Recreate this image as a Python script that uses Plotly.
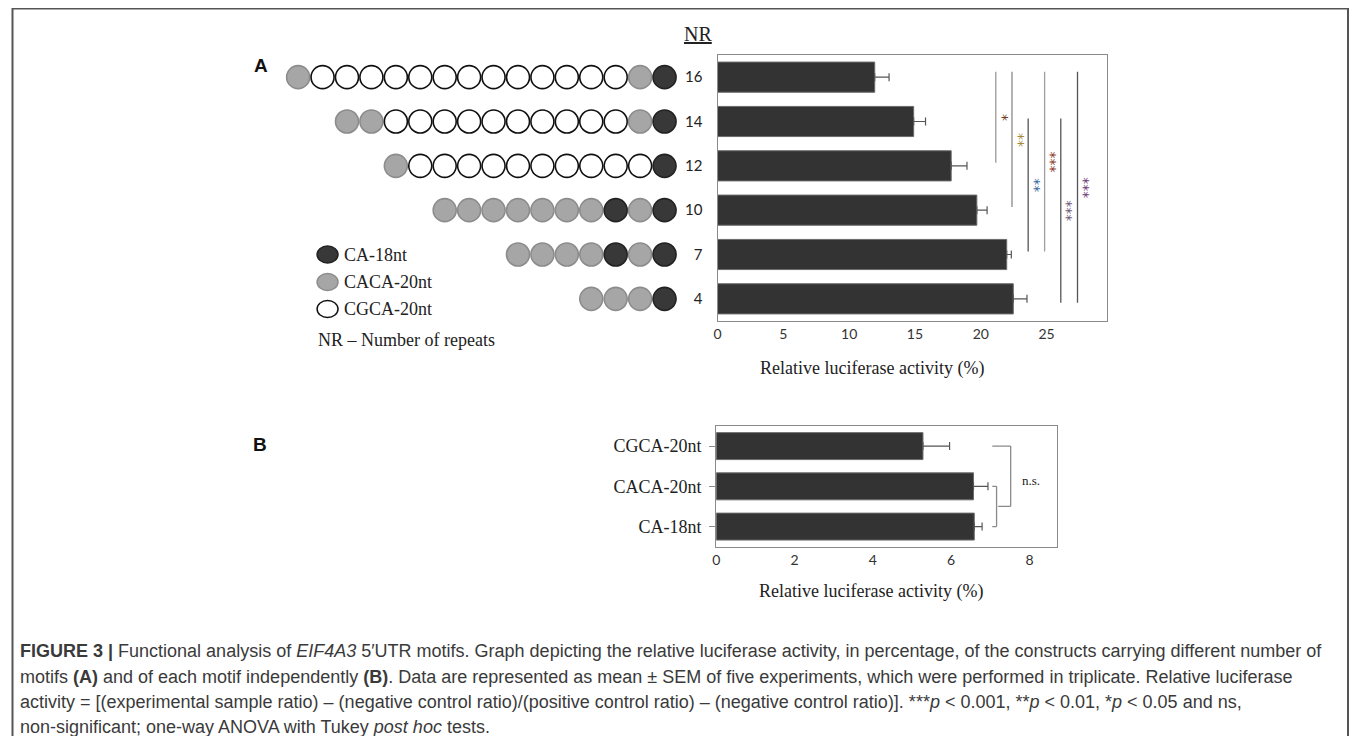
import plotly.graph_objects as go

# page body has an 8px margin: figure is sized so it fits exactly in the 1357x744 window
OFF = 8
W, H = 1357 - 2 * OFF, 744 - 2 * OFF

# ---------------- data ----------------
nr_labels = ["16", "14", "12", "10", "7", "4"]
nr_activity = [11.94, 14.9, 17.75, 19.7, 21.97, 22.47]
nr_sem = [1.09, 0.9, 1.2, 0.78, 0.35, 1.04]

# motif composition of each construct (left -> right); B = CA-18nt, G = CACA-20nt, W = CGCA-20nt
motif_rows = [
    "GWWWWWWWWWWWWWGB",
    "GGWWWWWWWWWWGB",
    "GWWWWWWWWWWB",
    "GGGGGGGBGB",
    "GGGGBGB",
    "GGGB",
]

# significance comparisons: (from row index, to row index, x position, label, colour)
sig_from = [0, 0, 1, 0, 1, 0]
sig_to = [2, 3, 4, 4, 5, 5]
sig_x = [21.14, 22.37, 23.6, 24.85, 26.08, 27.35]
sig_label = ["*", "**", "**", "***", "***", "***"]
sig_color = ["#6e3b22", "#a88a3a", "#3a6aa0", "#8b3a2a", "#6f5a7a", "#6e3c78"]
sig_line = ["#9a9a9a", "#8a8a8a", "#555555", "#a0a0a0", "#555555", "#555555"]

motif_labels = ["CGCA-20nt", "CACA-20nt", "CA-18nt"]
motif_activity = [5.28, 6.57, 6.59]
motif_sem = [0.68, 0.37, 0.2]

legend_names = ["CA-18nt", "CACA-20nt", "CGCA-20nt"]

# ---------------- helpers (reference pixel -> paper) ----------------
def px(x):
    return (x - OFF) / W

def py(y):
    return 1 - (y - OFF) / H

SERIF = "Liberation Serif, Times New Roman, serif"
SANS = "Lato, Open Sans, sans-serif"
ARIAL = "Liberation Sans, Arial, sans-serif"
DARK = "#333333"

fill = {"B": "#383838", "G": "#a6a6a6", "W": "#ffffff"}
edge = {"B": "#222222", "G": "#8c8c8c", "W": "#111111"}

fig = go.Figure()

# panel A bars
fig.add_trace(go.Bar(
    x=nr_activity, y=nr_labels, orientation="h", width=0.68,
    marker=dict(color=DARK, line=dict(color="#6a6a6a", width=1)),
    error_x=dict(type="data", array=nr_sem, arrayminus=[0] * len(nr_sem),
                 color="#555555", thickness=1.2, width=4),
    xaxis="x", yaxis="y", showlegend=False, hoverinfo="skip"))

# motif circles (aligned right, position index from the right end)
for row_label, seq in zip(nr_labels, motif_rows):
    n = len(seq)
    xs = [i - (n - 1) for i in range(n)]
    fig.add_trace(go.Scatter(
        x=xs, y=[row_label] * n, mode="markers",
        marker=dict(size=23, color=[fill[c] for c in seq],
                    line=dict(color=[edge[c] for c in seq], width=1.6)),
        xaxis="x3", yaxis="y", showlegend=False, hoverinfo="skip"))

# panel B bars
fig.add_trace(go.Bar(
    x=motif_activity, y=motif_labels, orientation="h", width=0.67,
    marker=dict(color=DARK, line=dict(color="#6a6a6a", width=1)),
    error_x=dict(type="data", array=motif_sem, arrayminus=[0] * len(motif_sem),
                 color="#555555", thickness=1.2, width=4),
    xaxis="x2", yaxis="y2", showlegend=False, hoverinfo="skip"))

axis_common = dict(showgrid=False, zeroline=False, showline=True, mirror=True,
                   linecolor="#8a8a8a", linewidth=1.3)

fig.update_layout(
    width=W, height=H, margin=dict(l=0, r=0, t=0, b=0),
    paper_bgcolor="white", plot_bgcolor="white",
    xaxis=dict(domain=[px(715.7), px(1106)], range=[0, 29.57], anchor="y",
               tickvals=[0, 5, 10, 15, 20, 25], ticks="", ticklabelstandoff=0,
               tickfont=dict(family=SANS, size=14, color="#333"), **axis_common),
    yaxis=dict(domain=[py(321), py(55)], type="category", range=[5.5, -0.5],
               anchor="x", ticks="", ticklabelstandoff=11,
               tickfont=dict(family=SANS, size=15, color="#222"), **axis_common),
    xaxis3=dict(domain=[px(270), px(680)], range=[-16.02, 0.714], anchor="y",
                visible=False),
    xaxis2=dict(domain=[px(714.3), px(1056)], range=[0, 8.7], anchor="y2",
                tickvals=[0, 2, 4, 6, 8], ticks="", ticklabelstandoff=0,
                tickfont=dict(family=SANS, size=14, color="#333"), **axis_common),
    yaxis2=dict(domain=[py(546.7), py(426)], type="category", range=[2.5, -0.5],
                anchor="x2", ticks="outside", ticklen=6, tickcolor="#8a8a8a",
                ticklabelstandoff=4,
                tickfont=dict(family=SERIF, size=18, color="#222"), **axis_common),
)

shapes = []
annotations = []

def ann(x, y, text, font, xanchor="center", yanchor="middle", **kw):
    d = dict(xref="paper", yref="paper", x=px(x), y=py(y), text=text, showarrow=False,
             xanchor=xanchor, yanchor=yanchor, font=font)
    d.update(kw)
    annotations.append(d)

# significance lines in panel A
for f, t, xv, lab, col, lc in zip(sig_from, sig_to, sig_x, sig_label, sig_color, sig_line):
    y0 = f - 0.12 if f == 0 else f - 0.07
    y1 = t - 0.07 if t < 5 else t + 0.09
    shapes.append(dict(type="line", xref="x", yref="y", x0=xv, x1=xv, y0=y0, y1=y1,
                       line=dict(color=lc, width=1.3)))
    annotations.append(dict(xref="x", yref="y", x=xv + 0.5, y=(y0 + y1) / 2,
                            text=lab, showarrow=False, textangle=90,
                            xanchor="center", yanchor="middle",
                            font=dict(family="DejaVu Sans, sans-serif", size=14, color=col)))

# n.s. brackets in panel B (category index coordinates)
br = "#8a8a8a"
shapes += [
    dict(type="line", xref="x2", yref="y2", x0=7.52, x1=7.52, y0=0.0, y1=1.5, line=dict(color=br, width=1.3)),
    dict(type="line", xref="x2", yref="y2", x0=7.05, x1=7.52, y0=0.0, y1=0.0, line=dict(color=br, width=1.3)),
    dict(type="line", xref="x2", yref="y2", x0=7.2, x1=7.52, y0=1.5, y1=1.5, line=dict(color=br, width=1.3)),
    dict(type="line", xref="x2", yref="y2", x0=7.16, x1=7.16, y0=1.0, y1=2.0, line=dict(color=br, width=1.3)),
    dict(type="line", xref="x2", yref="y2", x0=7.05, x1=7.16, y0=1.0, y1=1.0, line=dict(color=br, width=1.3)),
    dict(type="line", xref="x2", yref="y2", x0=7.05, x1=7.16, y0=2.0, y1=2.0, line=dict(color=br, width=1.3)),
]
annotations.append(dict(xref="x2", yref="y2", x=8.05, y=0.85, text="n.s.", showarrow=False,
                        xanchor="center", yanchor="middle",
                        font=dict(family=SERIF, size=13, color="#222")))

# legend of motifs (drawn manually)
leg_y = [254.5, 282, 309]
for name, yy, key in zip(legend_names, leg_y, ["B", "G", "W"]):
    shapes.append(dict(type="circle", xref="paper", yref="paper",
                       x0=px(314), x1=px(335), y0=py(yy + 8.5), y1=py(yy - 8.5),
                       fillcolor=fill[key], line=dict(color=edge[key], width=1.5)))
    ann(339, yy, name, dict(family=SERIF, size=18, color="#222"), xanchor="left")
ann(313, 340, "NR – Number of repeats", dict(family=SERIF, size=18, color="#222"), xanchor="left")

# titles and labels
ann(696, 34, "<u>NR</u>", dict(family=SERIF, size=20, color="#222"))
ann(258, 66, "<b>A</b>", dict(family=ARIAL, size=19, color="#111"))
ann(257, 444, "<b>B</b>", dict(family=ARIAL, size=19, color="#111"))
ann(871, 368, "Relative luciferase activity (%)", dict(family=SERIF, size=18, color="#222"))
ann(870, 591, "Relative luciferase activity (%)", dict(family=SERIF, size=18, color="#222"))

caption_lines = [
    "<b>FIGURE 3 |</b> Functional analysis of <i>EIF4A3</i> 5′UTR motifs. Graph depicting the relative luciferase activity, in percentage, of the constructs carrying different number of",
    "motifs <b>(A)</b> and of each motif independently <b>(B)</b>. Data are represented as mean ± SEM of five experiments, which were performed in triplicate. Relative luciferase",
    "activity = [(experimental sample ratio) – (negative control ratio)/(positive control ratio) – (negative control ratio)]. ***<i>p</i> &lt; 0.001, **<i>p</i> &lt; 0.01, *<i>p</i> &lt; 0.05 and ns,",
    "non-significant; one-way ANOVA with Tukey <i>post hoc</i> tests.",
]
caption_y = [651, 677, 702, 727]
for line, yy in zip(caption_lines, caption_y):
    ann(14, yy, line, dict(family=ARIAL, size=18, color="#3a3a3a"), xanchor="left")

# outer frame (bottom edge lies below the visible window)
shapes.append(dict(type="rect", xref="paper", yref="paper", x0=px(8.5), x1=px(1348),
                   y0=-0.3, y1=py(8.5), line=dict(color="#555555", width=2)))

fig.update_layout(shapes=shapes, annotations=annotations)

fig.write_html("out.html")
